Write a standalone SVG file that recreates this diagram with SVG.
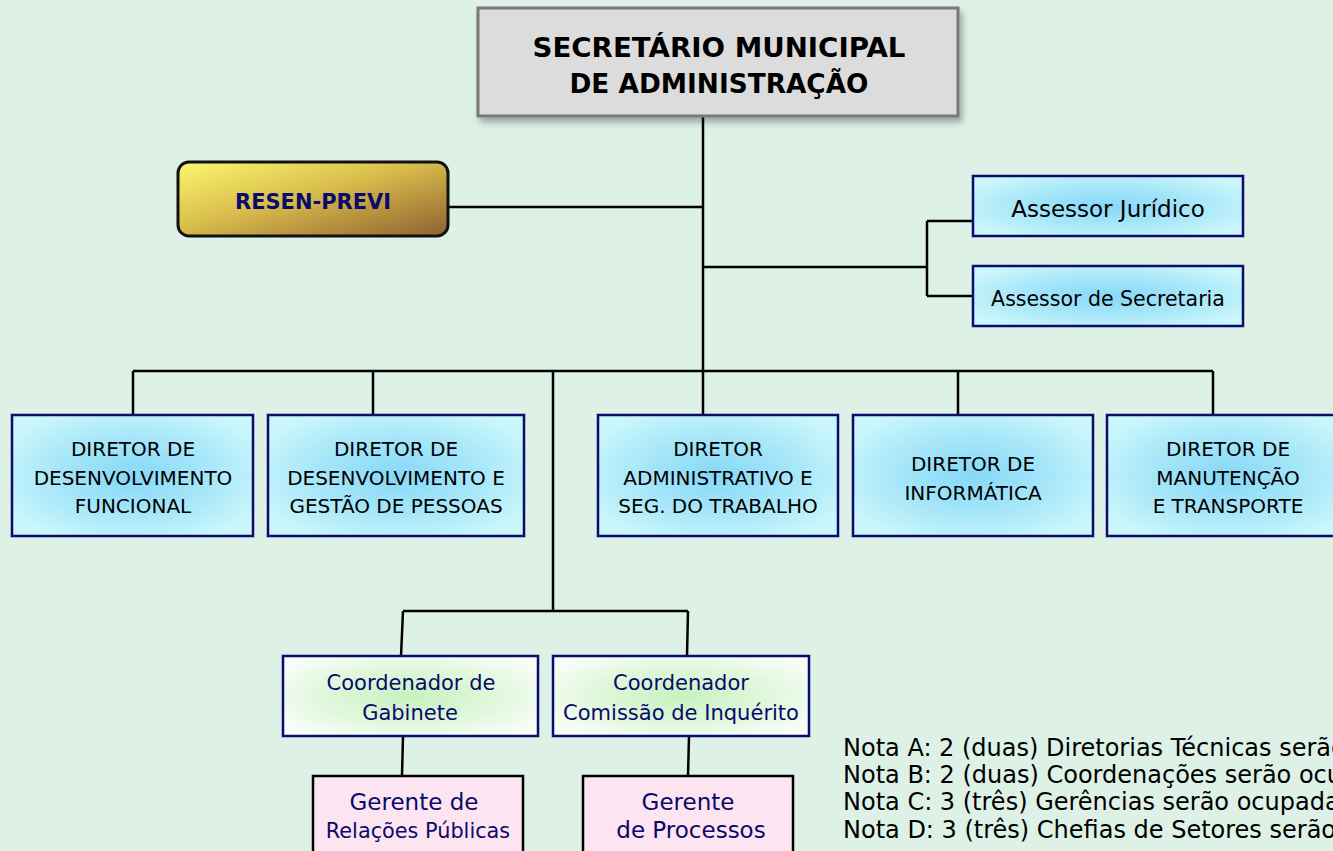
<svg xmlns="http://www.w3.org/2000/svg" width="1333" height="851" viewBox="0 0 1333 851">
<defs>
<radialGradient id="gBlue" cx="0.5" cy="0.5" r="0.6">
<stop offset="0" stop-color="#86d8f7"/>
<stop offset="0.55" stop-color="#a8e7f9"/>
<stop offset="1" stop-color="#cbf7fb"/>
</radialGradient>
<radialGradient id="gGreen" cx="0.5" cy="0.5" r="0.6">
<stop offset="0" stop-color="#c6f2bf"/>
<stop offset="0.6" stop-color="#e2f8de"/>
<stop offset="1" stop-color="#f7fdf6"/>
</radialGradient>
<linearGradient id="gGold" x1="0" y1="0" x2="1" y2="1">
<stop offset="0" stop-color="#fbf76e"/>
<stop offset="0.45" stop-color="#d9bd4c"/>
<stop offset="1" stop-color="#8f6130"/>
</linearGradient>
<filter id="shadow" x="-5%" y="-5%" width="115%" height="125%">
<feDropShadow dx="3" dy="5" stdDeviation="3" flood-color="#000" flood-opacity="0.3"/>
</filter>
<style>
.bg{fill:#ddf1e7}
.conn{fill:none;stroke:#000;stroke-width:2.5}
.dir{fill:url(#gBlue);stroke:#0b0b70;stroke-width:2.5}
.coord{fill:url(#gGreen);stroke:#0b0b70;stroke-width:2.5}
.ger{fill:#fde4f1;stroke:#000;stroke-width:2.5}
.t{font-family:"DejaVu Sans","Verdana",sans-serif;text-anchor:middle;fill:#000}
.nv{fill:#0a0a6a}
.note{font-family:"DejaVu Sans","Verdana",sans-serif;font-size:24px;fill:#000}
</style>
</defs>
<rect class="bg" x="0" y="0" width="1333" height="851"/>

<g id="connectors">
<path class="conn" d="M703,116 V371"/>
<path class="conn" d="M448,207 H703"/>
<path class="conn" d="M703,267 H927 M927,221 V296 M927,221 H973 M927,296 H973"/>
<path class="conn" d="M133,371 H1213 M133,371 V415 M373,371 V415 M703,371 V415 M958,371 V415 M1213,371 V415"/>
<path class="conn" d="M553,371 V611 M403,611 H688 M403,611 L401,656 M688,611 L687,656"/>
<path class="conn" d="M403,736 L402,776 M689,736 L688,776"/>
</g>

<g id="secretario">
<rect x="478" y="8" width="480" height="108" fill="#dcdcdc" stroke="#787878" stroke-width="3" filter="url(#shadow)"/>
<text class="t" x="719" y="57" font-size="27" font-weight="bold" fill="#111" textLength="373" lengthAdjust="spacingAndGlyphs">SECRETÁRIO MUNICIPAL</text>
<text class="t" x="719" y="93" font-size="27" font-weight="bold" fill="#111" textLength="299" lengthAdjust="spacingAndGlyphs">DE ADMINISTRAÇÃO</text>
</g>

<g id="resen-previ">
<rect x="178" y="162" width="270" height="74" rx="11" fill="url(#gGold)" stroke="#111" stroke-width="3"/>
<text class="t nv" x="313" y="209" font-size="21" font-weight="bold" textLength="156" lengthAdjust="spacingAndGlyphs">RESEN-PREVI</text>
</g>

<g id="assessor-juridico">
<rect class="dir" x="973" y="176" width="270" height="60"/>
<text class="t" x="1108" y="217" font-size="23">Assessor Jurídico</text>
</g>

<g id="assessor-secretaria">
<rect class="dir" x="973" y="266" width="270" height="60"/>
<text class="t" x="1108" y="306" font-size="20.5">Assessor de Secretaria</text>
</g>

<g id="dir-desenv-funcional">
<rect class="dir" x="12" y="415" width="241" height="121"/>
<text class="t" x="133" y="456" font-size="20">DIRETOR DE</text>
<text class="t" x="133" y="485" font-size="20">DESENVOLVIMENTO</text>
<text class="t" x="133" y="513" font-size="20">FUNCIONAL</text>
</g>

<g id="dir-desenv-gestao">
<rect class="dir" x="268" y="415" width="256" height="121"/>
<text class="t" x="396" y="456" font-size="20">DIRETOR DE</text>
<text class="t" x="396" y="485" font-size="20">DESENVOLVIMENTO E</text>
<text class="t" x="396" y="513" font-size="20">GESTÃO DE PESSOAS</text>
</g>

<g id="dir-administrativo">
<rect class="dir" x="598" y="415" width="240" height="121"/>
<text class="t" x="718" y="456" font-size="20">DIRETOR</text>
<text class="t" x="718" y="485" font-size="20">ADMINISTRATIVO E</text>
<text class="t" x="718" y="513" font-size="20">SEG. DO TRABALHO</text>
</g>

<g id="dir-informatica">
<rect class="dir" x="853" y="415" width="240" height="121"/>
<text class="t" x="973" y="471" font-size="20">DIRETOR DE</text>
<text class="t" x="973" y="500" font-size="20">INFORMÁTICA</text>
</g>

<g id="dir-manutencao">
<rect class="dir" x="1107" y="415" width="242" height="121"/>
<text class="t" x="1228" y="456" font-size="20">DIRETOR DE</text>
<text class="t" x="1228" y="485" font-size="20">MANUTENÇÃO</text>
<text class="t" x="1228" y="513" font-size="20">E TRANSPORTE</text>
</g>

<g id="coord-gabinete">
<rect class="coord" x="283" y="656" width="255" height="80"/>
<text class="t nv" x="411" y="690" font-size="21">Coordenador de</text>
<text class="t nv" x="410" y="720" font-size="21">Gabinete</text>
</g>

<g id="coord-inquerito">
<rect class="coord" x="553" y="656" width="256" height="80"/>
<text class="t nv" x="681" y="690" font-size="21">Coordenador</text>
<text class="t nv" x="681" y="720" font-size="21" textLength="236" lengthAdjust="spacingAndGlyphs">Comissão de Inquérito</text>
</g>

<g id="ger-relacoes">
<rect class="ger" x="313" y="776" width="210" height="90"/>
<text class="t nv" x="414" y="810" font-size="23">Gerente de</text>
<text class="t nv" x="418" y="838" font-size="20.8">Relações Públicas</text>
</g>

<g id="ger-processos">
<rect class="ger" x="583" y="776" width="210" height="90"/>
<text class="t nv" x="688" y="810" font-size="23">Gerente</text>
<text class="t nv" x="691" y="838" font-size="23">de Processos</text>
</g>

<g id="notas">
<text class="note" x="843" y="756">Nota A: 2 (duas) Diretorias Técnicas serão</text>
<text class="note" x="843" y="783">Nota B: 2 (duas) Coordenações serão ocupadas</text>
<text class="note" x="843" y="810">Nota C: 3 (três) Gerências serão ocupadas</text>
<text class="note" x="843" y="838">Nota D: 3 (três) Chefias de Setores serão</text>
</g>
</svg>
